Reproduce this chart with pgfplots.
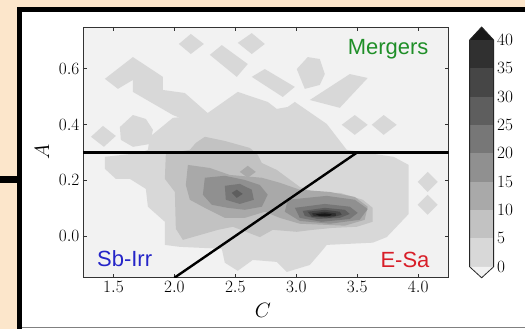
\documentclass[border=0pt]{standalone}
\usepackage{pgfplots}
\pgfplotsset{compat=1.18}
\usepackage{fontspec}
\newfontfamily\arial{Liberation Sans}
\definecolor{peach}{HTML}{FCE6CB}
\definecolor{bgc}{HTML}{F2F2F2}
\definecolor{cA}{HTML}{D8D8D8}
\definecolor{cB}{HTML}{C2C2C2}
\definecolor{cC}{HTML}{A9A9A9}
\definecolor{cD}{HTML}{909090}
\definecolor{cE}{HTML}{777777}
\definecolor{cF}{HTML}{5E5E5E}
\definecolor{cG}{HTML}{464646}
\definecolor{cH}{HTML}{303030}
\definecolor{cI}{HTML}{181818}
\definecolor{mgreen}{HTML}{1F8F28}
\definecolor{mblue}{HTML}{2424C8}
\definecolor{mred}{HTML}{D81E28}
\begin{document}
\begin{tikzpicture}
% slide background and frame
\fill[peach] (0pt,0pt) rectangle (525pt,329pt);
\fill[white] (22pt,0pt) rectangle (525pt,317pt);
\fill[black] (17pt,317pt) rectangle (525pt,322pt);
\fill[black] (17pt,0pt) rectangle (22pt,322pt);
\fill[black] (0pt,146pt) rectangle (17pt,153pt);
\draw[gray, line width=0.8pt] (22pt,1.5pt) -- (525pt,1.5pt);

\begin{axis}[
  at={(83pt,51pt)}, anchor=south west,
  scale only axis, width=366pt, height=251pt,
  xmin=1.25, xmax=4.25, ymin=-0.15, ymax=0.75,
  axis background/.style={fill=bgc},
  axis line style={black!80, line width=0.7pt},
  tick style={black!80, line width=0.6pt},
  major tick length=4pt,
  xtick={1.5,2.0,2.5,3.0,3.5,4.0},
  ytick={0.0,0.2,0.4,0.6},
  tick label style={font=\fontsize{16}{18}\selectfont},
  xticklabel style={/pgf/number format/fixed, /pgf/number format/fixed zerofill, /pgf/number format/precision=1},
  yticklabel style={/pgf/number format/fixed, /pgf/number format/fixed zerofill, /pgf/number format/precision=1},
  xlabel={$C$}, ylabel={$A$},
  label style={font=\fontsize{20}{22}\selectfont},
  xlabel style={at={(axis description cs:0.492,-0.131)}, anchor=center},
  ylabel style={at={(axis description cs:-0.112,0.502)}, anchor=center, rotate=0},
]
% level 0-5
\addplot[fill=cA, draw=none] coordinates {(1.430,0.564)(1.660,0.642)(1.906,0.571)(1.906,0.524)(2.086,0.513)(2.357,0.409)(2.250,0.388)(1.988,0.434)(1.660,0.517)(1.660,0.560)(1.537,0.528)} -- cycle;
\addplot[fill=cA, draw=none] coordinates {(2.037,0.689)(2.135,0.725)(2.242,0.689)(2.135,0.653)} -- cycle;
\addplot[fill=cA, draw=none] coordinates {(2.520,0.693)(2.635,0.728)(2.742,0.689)(2.635,0.653)} -- cycle;
\addplot[fill=cA, draw=none] coordinates {(1.316,0.356)(1.414,0.395)(1.520,0.359)(1.422,0.320)} -- cycle;
\addplot[fill=cA, draw=none] coordinates {(1.553,0.391)(1.660,0.434)(1.766,0.420)(1.824,0.381)(1.799,0.330)(1.660,0.320)(1.561,0.345)} -- cycle;
\addplot[fill=cA, draw=none] coordinates {(2.291,0.650)(2.389,0.685)(2.602,0.617)(2.512,0.571)} -- cycle;
\addplot[fill=cA, draw=none] coordinates {(2.635,0.571)(2.742,0.599)(2.988,0.535)(2.889,0.499)} -- cycle;
\addplot[fill=cA, draw=none] coordinates {(3.004,0.599)(3.094,0.642)(3.193,0.635)(3.234,0.581)(3.193,0.542)(3.070,0.528)} -- cycle;
\addplot[fill=cA, draw=none] coordinates {(3.111,0.488)(3.439,0.581)(3.586,0.567)(3.357,0.460)} -- cycle;
\addplot[fill=cA, draw=none] coordinates {(3.373,0.399)(3.480,0.434)(3.586,0.399)(3.480,0.363)} -- cycle;
\addplot[fill=cA, draw=none] coordinates {(3.619,0.399)(3.717,0.434)(3.824,0.399)(3.717,0.363)} -- cycle;
\addplot[fill=cA, draw=none] coordinates {(3.996,0.194)(4.078,0.230)(4.160,0.194)(4.078,0.158)} -- cycle;
\addplot[fill=cA, draw=none] coordinates {(3.996,0.112)(4.078,0.148)(4.160,0.112)(4.078,0.076)} -- cycle;
\addplot[fill=cA, draw=none] coordinates {(1.430,0.284)(1.717,0.298)(1.783,0.309)(1.799,0.356)(1.988,0.424)(2.250,0.434)(2.520,0.517)(2.766,0.481)(2.840,0.456)(2.930,0.463)(2.988,0.481)(3.250,0.402)(3.414,0.309)(3.799,0.284)(3.922,0.255)(3.922,0.079)(3.742,-0.004)(3.627,-0.024)(3.250,-0.032)(3.217,-0.050)(3.111,-0.104)(2.922,-0.129)(2.840,-0.093)(2.643,-0.086)(2.520,-0.125)(2.414,-0.096)(2.389,-0.046)(2.045,-0.039)(1.922,-0.032)(1.922,0.051)(1.783,0.105)(1.766,0.169)(1.635,0.205)(1.520,0.205)(1.430,0.241)} -- cycle;
% level 5-10
\addplot[fill=cB, draw=none] coordinates {(1.930,0.295)(2.127,0.309)(2.176,0.334)(2.250,0.356)(2.414,0.341)(2.619,0.316)(2.684,0.291)(2.717,0.262)(2.840,0.237)(3.029,0.176)(3.168,0.155)(3.357,0.155)(3.545,0.130)(3.627,0.101)(3.627,0.051)(3.496,0.033)(3.299,0.029)(3.135,0.022)(3.004,0.015)(2.807,0.022)(2.701,-0.004)(2.480,0.033)(2.357,0.022)(2.070,-0.014)(2.012,0.026)(2.004,0.158)(1.922,0.205)} -- cycle;
% level 10-15
\addplot[fill=cC, draw=none] coordinates {(2.111,0.255)(2.291,0.244)(2.455,0.219)(2.717,0.209)(2.865,0.191)(3.029,0.166)(3.275,0.158)(3.480,0.140)(3.586,0.105)(3.561,0.058)(3.398,0.037)(3.029,0.044)(2.865,0.065)(2.742,0.087)(2.578,0.065)(2.414,0.065)(2.250,0.101)(2.127,0.130)(2.094,0.183)} -- cycle;
\addplot[fill=cC, draw=none] coordinates {(2.537,0.230)(2.602,0.252)(2.668,0.230)(2.602,0.209)} -- cycle;
% level 15-20
\addplot[fill=cD, draw=none] coordinates {(2.250,0.209)(2.414,0.216)(2.578,0.201)(2.701,0.183)(2.766,0.148)(2.717,0.105)(2.578,0.094)(2.439,0.101)(2.307,0.112)(2.234,0.148)} -- cycle;
\addplot[fill=cD, draw=none] coordinates {(2.930,0.130)(3.250,0.144)(3.480,0.130)(3.586,0.097)(3.520,0.058)(3.275,0.044)(3.029,0.054)(2.906,0.087)} -- cycle;
% level 20-25
\addplot[fill=cE, draw=none] coordinates {(2.414,0.180)(2.537,0.187)(2.635,0.166)(2.652,0.130)(2.537,0.115)(2.422,0.130)} -- cycle;
\addplot[fill=cE, draw=none] coordinates {(2.988,0.101)(3.234,0.115)(3.439,0.105)(3.504,0.083)(3.439,0.061)(3.209,0.051)(3.029,0.065)} -- cycle;
% level 25-30
\addplot[fill=cF, draw=none] coordinates {(2.471,0.155)(2.512,0.166)(2.561,0.151)(2.512,0.137)} -- cycle;
\addplot[fill=cF, draw=none] coordinates {(3.053,0.090)(3.234,0.101)(3.398,0.094)(3.439,0.079)(3.357,0.065)(3.176,0.061)(3.070,0.072)} -- cycle;
% level 30-35
\addplot[fill=cG, draw=none] coordinates {(3.094,0.087)(3.234,0.094)(3.357,0.087)(3.373,0.076)(3.275,0.065)(3.127,0.069)} -- cycle;
% level 35-40
\addplot[fill=cH, draw=none] coordinates {(3.127,0.081)(3.234,0.087)(3.324,0.081)(3.324,0.072)(3.234,0.069)(3.144,0.072)} -- cycle;
% level >40
\addplot[fill=cI, draw=none] coordinates {(3.160,0.078)(3.234,0.081)(3.291,0.078)(3.275,0.072)(3.193,0.071)} -- cycle;
% dividing lines
\addplot[black, line width=2.4pt] coordinates {(1.25,0.3)(4.25,0.3)};
\addplot[black, line width=2.4pt] coordinates {(2.0,-0.15)(3.5,0.3)};
% region labels
\node[anchor=base east, inner sep=0pt, text=mgreen, font=\arial\fontsize{22}{24}\selectfont] at (axis cs:4.086,0.653) {Mergers};
\node[anchor=base west, inner sep=0pt, text=mblue, font=\arial\fontsize{22}{24}\selectfont] at (axis cs:1.365,-0.111) {Sb-Irr};
\node[anchor=base east, inner sep=0pt, text=mred, font=\arial\fontsize{22}{24}\selectfont] at (axis cs:4.094,-0.114) {E-Sa};
\end{axis}

% colorbar
\begin{axis}[
  at={(470pt,51pt)}, anchor=south west,
  scale only axis, width=24pt, height=251pt,
  xmin=0, xmax=1, ymin=-1.94, ymax=42.29,
  clip=false,
  axis line style={draw=none},
  xtick=\empty,
  ytick={0,5,10,15,20,25,30,35,40},
  ytick pos=right, yticklabel pos=right,
  tick style={black!80, line width=0.6pt},
  major tick length=3pt,
  tick label style={font=\fontsize{16}{18}\selectfont},
]
\addplot[fill=cA, draw=none] coordinates {(0,0)(1,0)(1,5)(0,5)} -- cycle;
\addplot[fill=cB, draw=none] coordinates {(0,5)(1,5)(1,10)(0,10)} -- cycle;
\addplot[fill=cC, draw=none] coordinates {(0,10)(1,10)(1,15)(0,15)} -- cycle;
\addplot[fill=cD, draw=none] coordinates {(0,15)(1,15)(1,20)(0,20)} -- cycle;
\addplot[fill=cE, draw=none] coordinates {(0,20)(1,20)(1,25)(0,25)} -- cycle;
\addplot[fill=cF, draw=none] coordinates {(0,25)(1,25)(1,30)(0,30)} -- cycle;
\addplot[fill=cG, draw=none] coordinates {(0,30)(1,30)(1,35)(0,35)} -- cycle;
\addplot[fill=cH, draw=none] coordinates {(0,35)(1,35)(1,40)(0,40)} -- cycle;
\addplot[fill=cI, draw=none] coordinates {(0,40)(1,40)(0.5,42.29)} -- cycle;
\addplot[fill=bgc, draw=none] coordinates {(0,0)(1,0)(0.5,-1.94)} -- cycle;
\addplot[black!85, line width=0.8pt] coordinates {(0.5,-1.94)(1,0)(1,40)(0.5,42.29)(0,40)(0,0)} -- cycle;
\end{axis}
\end{tikzpicture}
\end{document}
